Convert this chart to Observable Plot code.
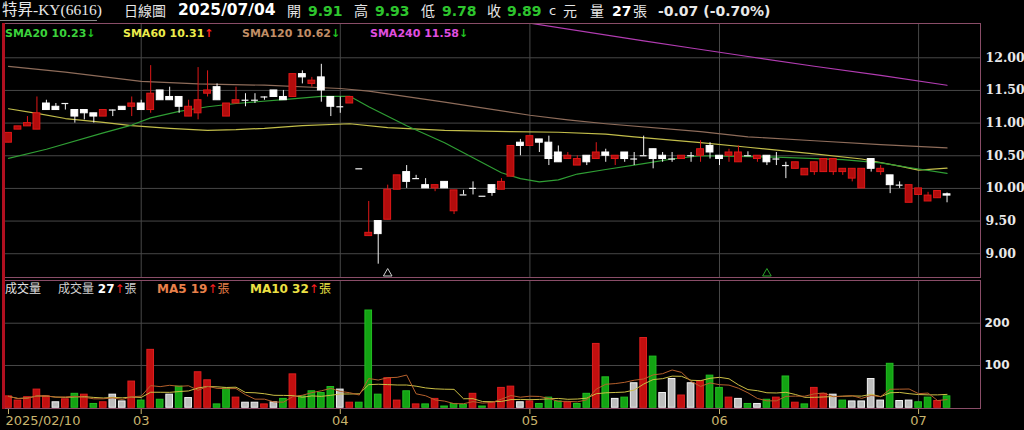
<!DOCTYPE html>
<html>
<head>
<meta charset="utf-8">
<script src="https://cdn.jsdelivr.net/npm/d3@7"></script>
<script src="https://cdn.jsdelivr.net/npm/@observablehq/plot@0.6"></script>
<style>
  html, body { margin: 0; padding: 0; background: #000; overflow: hidden; }
  #wrap { position: relative; width: 1024px; height: 430px; background: #000;
          font-family: "DejaVu Sans", "Noto Sans CJK TC", sans-serif; color: #e6e6e6; }
  .t { position: absolute; white-space: nowrap; line-height: 18px; }
  .b { font-weight: bold; }
  svg { position: absolute; left: 0; }
</style>
</head>
<body>
<div id="wrap"></div>
<script>
// ---- daily bars, 2025/02/10 .. 2025/07/04 (trading days) ----
const open = [10.70,10.90,10.95,10.90,11.30,11.25,11.30,11.20,11.20,11.15,
  11.10,11.20,11.25,11.25,11.30,11.20,11.50,11.40,11.40,11.10,
  11.15,11.45,11.55,11.10,11.30,11.35,11.35,11.40,11.50,11.40,
  11.40,11.75,11.60,11.70,11.40,11.25,11.30,10.30,9.27,9.50,
  9.52,9.98,10.25,10.15,10.05,10.00,10.10,9.65,9.90,10.00,
  9.88,10.05,9.98,10.18,10.70,10.65,10.75,10.70,10.55,10.45,
  10.35,10.50,10.45,10.55,10.45,10.55,10.45,10.50,10.60,10.50,
  10.45,10.45,10.50,10.50,10.65,10.50,10.50,10.40,10.50,10.45,
  10.50,10.45,10.35,10.30,10.20,10.25,10.25,10.25,10.25,10.15,
  10.00,10.45,10.25,10.20,10.05,9.78,9.90,9.80,9.85,9.91];
const high = [10.85,10.95,11.10,11.40,11.35,11.30,11.30,11.20,11.20,11.15,
  11.20,11.20,11.25,11.40,11.35,11.88,11.50,11.55,11.40,11.35,
  11.85,11.80,11.60,11.30,11.55,11.45,11.45,11.40,11.50,11.50,
  11.75,11.80,11.70,11.90,11.40,11.40,11.40,10.30,9.80,9.50,
  10.05,10.20,10.35,10.20,10.15,10.05,10.10,9.97,9.97,10.10,
  9.88,10.05,10.15,10.65,10.75,10.80,10.75,10.80,10.65,10.55,
  10.50,10.50,10.70,10.60,10.50,10.55,10.55,10.80,10.60,10.55,
  10.55,10.50,10.55,10.73,10.70,10.50,10.60,10.65,10.56,10.50,
  10.50,10.55,10.40,10.40,10.30,10.40,10.45,10.45,10.30,10.30,
  10.30,10.45,10.35,10.20,10.10,10.05,10.00,9.94,9.96,9.93];
const low = [10.70,10.90,10.95,10.90,11.20,11.20,11.20,11.00,11.05,11.00,
  11.10,11.10,11.20,11.10,11.20,11.15,11.35,11.35,11.15,11.10,
  11.05,11.40,11.35,11.10,11.30,11.25,11.30,11.35,11.40,11.35,
  11.40,11.60,11.55,11.32,11.10,11.15,11.30,10.30,9.27,8.84,
  9.52,9.98,10.00,10.15,10.00,9.95,10.00,9.60,9.90,9.90,
  9.88,9.88,9.98,10.18,10.50,10.65,10.55,10.35,10.40,10.45,
  10.35,10.35,10.45,10.40,10.35,10.40,10.35,10.50,10.30,10.40,
  10.40,10.45,10.40,10.40,10.45,10.35,10.40,10.40,10.50,10.40,
  10.35,10.35,10.15,10.30,10.20,10.20,10.25,10.20,10.20,10.10,
  10.00,10.25,10.20,9.92,10.00,9.78,9.90,9.80,9.85,9.78];
const close = [10.85,10.95,11.00,11.15,11.20,11.20,11.30,11.10,11.15,11.10,
  11.20,11.20,11.20,11.30,11.20,11.45,11.35,11.35,11.25,11.25,
  11.35,11.50,11.35,11.30,11.35,11.35,11.35,11.40,11.40,11.35,
  11.75,11.70,11.65,11.50,11.25,11.25,11.40,10.30,9.32,9.30,
  9.98,10.20,10.10,10.15,10.00,10.05,10.00,9.97,9.90,10.00,
  9.88,9.93,10.10,10.65,10.65,10.80,10.70,10.45,10.40,10.50,
  10.45,10.40,10.55,10.50,10.50,10.45,10.45,10.50,10.45,10.45,
  10.45,10.50,10.50,10.60,10.55,10.45,10.55,10.55,10.50,10.50,
  10.40,10.45,10.35,10.40,10.30,10.40,10.45,10.45,10.30,10.30,
  10.30,10.30,10.30,10.05,10.05,10.05,10.00,9.89,9.96,9.89];
// volume in 張
const volume = [27,17,25,43,27,13,20,33,31,9,
  13,31,15,62,17,137,19,31,50,23,
  84,65,8,46,24,12,12,8,13,21,
  79,27,39,35,49,43,12,12,230,31,
  70,17,39,8,8,21,3,9,7,33,
  3,12,47,50,13,15,9,24,15,13,
  9,33,151,72,21,24,58,165,121,35,
  68,29,58,63,76,47,24,21,9,9,
  19,24,74,12,8,47,33,31,17,15,
  15,68,17,104,16,17,13,24,16,27];

// moving averages of price, [day index, value]
const sma20 = [[0,10.46],[4,10.60],[10,10.85],[13,10.97],[15,11.08],[18,11.18],[21,11.25],[24,11.30],
  [29,11.36],[33,11.41],[36,11.41],[38,11.25],[42,10.96],[46,10.70],[49,10.47],[52,10.24],[54,10.15],
  [56,10.10],[58,10.13],[60,10.22],[63,10.29],[67,10.38],[70,10.45],[73,10.50],[81,10.48],[88,10.44],
  [92,10.39],[95,10.32],[99,10.23]];
const sma60 = [[0,11.22],[3,11.15],[6,11.07],[10,11.01],[13,10.96],[17,10.92],[21,10.89],[24,10.90],
  [27,10.92],[31,10.96],[36,10.99],[40,10.93],[46,10.89],[53,10.87],[58,10.86],[63,10.83],[66,10.79],
  [73,10.70],[78,10.63],[85,10.53],[90,10.45],[94,10.34],[96,10.28],[99,10.31]];
const sma120 = [[0,11.87],[6,11.78],[14,11.64],[20,11.60],[27,11.58],[35,11.53],[38,11.49],[46,11.32],
  [55,11.12],[59,11.05],[63,10.99],[73,10.87],[78,10.79],[85,10.73],[92,10.67],[99,10.62]];
const sma240 = [[55,12.53],[67,12.26],[72,12.15],[78,12.02],[85,11.87],[92,11.73],[99,11.58]];

// axis ticks
const priceTicks = [9.0, 9.5, 10.0, 10.5, 11.0, 11.5, 12.0];
const volTicks = [100, 200];
const monthTickIdx = [0, 14, 35, 55, 75, 96];
const monthTickLabels = ["2025/02/10", "03", "04", "05", "06", "07"];
const markerIdx = [40, 80];

// ---- derived records ----
const bars = close.map((c, i) => ({
  i, o: open[i], h: high[i], l: low[i], c, v: volume[i],
  up: c > open[i], flat: c === open[i],
  dir: i === 0 ? 1 : Math.sign(Math.round((c - close[i - 1]) * 100))
}));
const toPts = a => a.map(([i, v]) => ({i, v}));

const RED = "#e01818", RED_FILL = "#b20c0c";
const bodyW = 0.36, barW = 0.35;
const xDomain = [-0.42, 102.53];
// plain ASCII hyphen for negative numbers
const locale = d3.formatLocale({decimal: ".", thousands: ",", grouping: [3], currency: ["", ""], minus: "-"});
const f2 = locale.format(".2f");

const wrap = document.getElementById("wrap");

// ---- price panel ----
const pricePlot = Plot.plot({
  width: 1024, height: 257,
  marginTop: 1, marginBottom: 2, marginLeft: 4, marginRight: 44,
  style: {background: "transparent", fontFamily: "DejaVu Sans", overflow: "visible"},
  x: {domain: xDomain, axis: null},
  y: {domain: [8.636, 12.525], axis: null},
  marks: [
    Plot.ruleY(priceTicks, {stroke: "#474747"}),
    Plot.ruleX(monthTickIdx.slice(1), {stroke: "#474747"}),
    Plot.line(toPts(sma240), {x: "i", y: "v", stroke: "#b23cb2", strokeWidth: 1.2, clip: true}),
    Plot.line(toPts(sma120), {x: "i", y: "v", stroke: "#8e6c5a", strokeWidth: 1.2, clip: true}),
    Plot.line(toPts(sma60), {x: "i", y: "v", stroke: "#c2bd4a", strokeWidth: 1.2, clip: true}),
    Plot.line(toPts(sma20), {x: "i", y: "v", stroke: "#2f9e34", strokeWidth: 1.2, clip: true}),
    Plot.ruleX(bars, {x: "i", y1: "l", y2: "h", stroke: d => d.up ? RED : "#f4f4f4", strokeWidth: 1}),
    Plot.rect(bars.filter(d => !d.flat), {
      x1: d => d.i - bodyW, x2: d => d.i + bodyW, y1: "o", y2: "c",
      fill: d => d.up ? RED_FILL : "#ffffff", stroke: d => d.up ? RED : "#ffffff", strokeWidth: 1
    }),
    Plot.ruleY(bars.filter(d => d.flat), {
      x1: d => d.i - bodyW, x2: d => d.i + bodyW, y: "c", stroke: "#f4f4f4", strokeWidth: 1.2
    }),
    Plot.dot(markerIdx, {
      x: d => d, frameAnchor: "bottom", dy: -4, symbol: "triangle", r: 3.2,
      fill: "none", stroke: (d, j) => j === 0 ? "#cfcfcf" : "#2aa02a", strokeWidth: 1
    }),
    Plot.axisY({
      anchor: "right", ticks: priceTicks, tickFormat: f2, tickSize: 0, tickPadding: 5,
      label: null, fontSize: 12.5, fontWeight: "bold", fontFamily: "DejaVu Serif", fill: "#e8e8e8"
    }),
    Plot.frame({stroke: "#8a4d68"})
  ]
});
pricePlot.style.top = "22px";
wrap.appendChild(pricePlot);

// ---- volume panel ----
const volPlot = Plot.plot({
  width: 1024, height: 151,
  marginTop: 1, marginBottom: 22, marginLeft: 4, marginRight: 44,
  style: {background: "transparent", fontFamily: "DejaVu Sans", overflow: "visible"},
  x: {domain: xDomain, axis: null},
  y: {domain: [-1.7, 301], axis: null},
  marks: [
    Plot.ruleY(volTicks, {stroke: "#474747"}),
    Plot.ruleX(monthTickIdx.slice(1), {stroke: "#474747"}),
    Plot.rect(bars, {
      x1: d => d.i - barW, x2: d => d.i + barW, y1: 0, y2: "v",
      fill: d => d.dir > 0 ? "#c20f0f" : d.dir < 0 ? "#13a313" : "#bdbdbd",
      stroke: d => d.dir > 0 ? "#de1f1f" : d.dir < 0 ? "#22bf22" : "#f2f2f2",
      strokeWidth: 1
    }),
    Plot.lineY(bars, Plot.windowY({k: 10, anchor: "end", reduce: "mean"},
      {x: "i", y: "v", stroke: "#cbbf45", strokeWidth: 1})),
    Plot.lineY(bars, Plot.windowY({k: 5, anchor: "end", reduce: "mean"},
      {x: "i", y: "v", stroke: "#b5602c", strokeWidth: 1})),
    Plot.axisY({
      anchor: "right", ticks: volTicks, tickSize: 0, tickPadding: 4, label: null,
      fontSize: 12, fontWeight: "bold", fill: "#e8e8e8"
    }),
    Plot.axisX({
      anchor: "bottom", ticks: monthTickIdx, tickSize: 6, tickFormat: () => "",
      stroke: "#c8b46e", label: null
    }),
    Plot.text([0], {
      x: d => d, text: () => monthTickLabels[0], frameAnchor: "bottom", dy: 16, dx: -3,
      textAnchor: "start", fill: "#c8b46e", fontSize: 13
    }),
    Plot.text(monthTickIdx.slice(1), {
      x: d => d, text: (d, j) => monthTickLabels[j + 1], frameAnchor: "bottom", dy: 16,
      fill: "#c8b46e", fontSize: 13
    }),
    Plot.frame({stroke: "#8a4d68"})
  ]
});
volPlot.style.top = "279px";
wrap.appendChild(volPlot);

// left edge of both panels
const edge = document.createElement("div");
Object.assign(edge.style, {position: "absolute", left: "2px", top: "23px", width: "3px",
  height: "386px", background: "#b01020"});
wrap.appendChild(edge);

// ---- text helpers ----
function put(left, top, html, css = {}) {
  const s = document.createElement("div");
  s.className = "t";
  s.innerHTML = html;
  Object.assign(s.style, {left: left + "px", top: top + "px"}, css);
  wrap.appendChild(s);
  return s;
}
const up = '<span style="color:#ff2020">↑</span>';
const dn = '<span style="color:#22c422">↓</span>';
const arrow = (a, b) => b > a ? up : dn;

// ---- header ----
const last = bars[bars.length - 1];
const prevClose = close[close.length - 2];
const chg = last.c - prevClose;
const GREEN = "#2ec52e";
const pc = (v) => v > prevClose ? "#ff3030" : v < prevClose ? GREEN : "#e6e6e6";

put(2, 1, "特昇-KY(6616)", {fontFamily: '"Liberation Serif", "Noto Sans CJK TC", serif', fontSize: "15.5px", color: "#e8e8e8"});
const ul = document.createElement("div");
Object.assign(ul.style, {position: "absolute", left: "0px", top: "20px", width: "97px", height: "1px", background: "#8a8a8a"});
wrap.appendChild(ul);
put(124, 2, "日線圖", {fontSize: "14px"});
put(178, 1, "2025/07/04", {fontSize: "15.5px", fontWeight: "bold", color: "#ffffff"});
put(287, 2, "開", {fontSize: "14px"});
put(308, 2, f2(last.o), {fontSize: "14px", fontWeight: "bold", color: pc(last.o)});
put(354, 2, "高", {fontSize: "14px"});
put(375, 2, f2(last.h), {fontSize: "14px", fontWeight: "bold", color: pc(last.h)});
put(421, 2, "低", {fontSize: "14px"});
put(442, 2, f2(last.l), {fontSize: "14px", fontWeight: "bold", color: pc(last.l)});
put(487, 2, "收", {fontSize: "14px"});
put(507, 2, f2(last.c), {fontSize: "14px", fontWeight: "bold", color: pc(last.c)});
put(549, 2, "c", {fontSize: "13px"});
put(563, 2, "元", {fontSize: "14px"});
put(590, 2, "量", {fontSize: "14px"});
put(612, 2, String(last.v), {fontSize: "14px", fontWeight: "bold", color: "#ffffff"});
put(633, 2, "張", {fontSize: "14px"});
put(658, 2, `${f2(chg)} (${f2(chg / prevClose * 100)}%)`,
  {fontSize: "14px", fontWeight: "bold", color: "#e8e8e8"});

// ---- price legend ----
const legend = [
  ["SMA20", sma20, "#3cd23c", 5],
  ["SMA60", sma60, "#ecec4c", 123],
  ["SMA120", sma120, "#c08e66", 242],
  ["SMA240", sma240, "#e04ee0", 370]
];
for (const [name, s, col, left] of legend) {
  const a = s[s.length - 2][1], b = s[s.length - 1][1];
  put(left, 25, `${name} ${f2(b)}${arrow(a, b)}`, {fontSize: "11px", fontWeight: "bold", color: col});
}

// ---- volume legend ----
const ma = (k, end) => d3.mean(volume.slice(end - k, end));
const N = volume.length;
put(5, 280, "成交量", {fontSize: "12px", color: "#e0e0e0"});
put(58, 280, `成交量 <b style="color:#fff">${volume[N - 1]}</b>${arrow(volume[N - 2], volume[N - 1])}張`,
  {fontSize: "12px", color: "#d0d0d0"});
put(157, 280, `<b>MA5 ${Math.round(ma(5, N))}</b>${arrow(ma(5, N - 1), ma(5, N))}張`,
  {fontSize: "12px", color: "#e8804a"});
put(250, 280, `<b>MA10 ${Math.round(ma(10, N))}</b>${arrow(ma(10, N - 1), ma(10, N))}張`,
  {fontSize: "12px", color: "#ece044"});
</script>
</body>
</html>
